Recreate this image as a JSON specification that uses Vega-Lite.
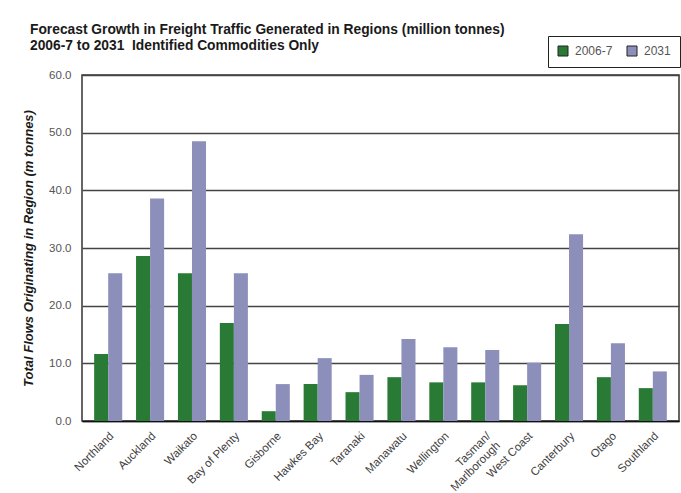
{
  "$schema": "https://vega.github.io/schema/vega-lite/v6.json",
  "width": 597,
  "height": 346,
  "autosize": "none",
  "padding": {"left": 82, "top": 75, "right": 2, "bottom": 72},
  "background": "white",
  "config": {
    "font": "Liberation Sans",
    "view": {"stroke": "#333333", "strokeWidth": 1.5}
  },
  "title": {
    "text": ["Forecast Growth in Freight Traffic Generated in Regions (million tonnes)", "2006-7 to 2031\u00a0 Identified Commodities Only"],
    "anchor": "start",
    "frame": "group",
    "fontSize": 13.8,
    "fontWeight": "bold",
    "color": "#1a1a1a",
    "lineHeight": 16,
    "dx": -52,
    "dy": 44,
    "offset": 27
  },
  "data": {
    "values": [
      {"region": "Northland", "year": "2006-7", "value": 11.6},
      {"region": "Northland", "year": "2031", "value": 25.6},
      {"region": "Auckland", "year": "2006-7", "value": 28.6},
      {"region": "Auckland", "year": "2031", "value": 38.6},
      {"region": "Waikato", "year": "2006-7", "value": 25.6},
      {"region": "Waikato", "year": "2031", "value": 48.5},
      {"region": "Bay of Plenty", "year": "2006-7", "value": 17.0},
      {"region": "Bay of Plenty", "year": "2031", "value": 25.6},
      {"region": "Gisborne", "year": "2006-7", "value": 1.7},
      {"region": "Gisborne", "year": "2031", "value": 6.4},
      {"region": "Hawkes Bay", "year": "2006-7", "value": 6.4},
      {"region": "Hawkes Bay", "year": "2031", "value": 10.9},
      {"region": "Taranaki", "year": "2006-7", "value": 5.0},
      {"region": "Taranaki", "year": "2031", "value": 8.0},
      {"region": "Manawatu", "year": "2006-7", "value": 7.6},
      {"region": "Manawatu", "year": "2031", "value": 14.2},
      {"region": "Wellington", "year": "2006-7", "value": 6.7},
      {"region": "Wellington", "year": "2031", "value": 12.8},
      {"region": "Tasman/Marlborough", "year": "2006-7", "value": 6.7},
      {"region": "Tasman/Marlborough", "year": "2031", "value": 12.3},
      {"region": "West Coast", "year": "2006-7", "value": 6.2},
      {"region": "West Coast", "year": "2031", "value": 10.1},
      {"region": "Canterbury", "year": "2006-7", "value": 16.8},
      {"region": "Canterbury", "year": "2031", "value": 32.4},
      {"region": "Otago", "year": "2006-7", "value": 7.6},
      {"region": "Otago", "year": "2031", "value": 13.5},
      {"region": "Southland", "year": "2006-7", "value": 5.7},
      {"region": "Southland", "year": "2031", "value": 8.6}
    ]
  },
  "mark": {"type": "bar"},
  "encoding": {
    "x": {
      "field": "region",
      "type": "nominal",
      "sort": null,
      "scale": {"paddingInner": 0.33, "paddingOuter": 0.29},
      "axis": {
        "title": null,
        "labelAngle": -45,
        "labelAlign": "right",
        "labelBaseline": "middle",
        "labelFontSize": 11.5,
        "labelColor": "#404040",
        "labelPadding": 13,
        "labelOffset": 4,
        "ticks": false,
        "domainColor": "#111111",
        "domainWidth": 1.5,
        "labelExpr": "datum.value == 'Tasman/Marlborough' ? ['Tasman/', 'Marlborough'] : datum.value"
      }
    },
    "xOffset": {
      "field": "year",
      "type": "nominal",
      "sort": ["2006-7", "2031"],
      "scale": {"paddingInner": 0, "paddingOuter": 0}
    },
    "y": {
      "field": "value",
      "type": "quantitative",
      "scale": {"domain": [0, 60], "nice": false},
      "axis": {
        "title": "Total Flows Originating in Region (m tonnes)",
        "titleFontSize": 13,
        "titleFontWeight": "bold",
        "titleFontStyle": "italic",
        "titleColor": "#1a1a1a",
        "titlePadding": 13,
        "values": [0, 10, 20, 30, 40, 50, 60],
        "format": ".1f",
        "labelFontSize": 11.5,
        "labelColor": "#555555",
        "labelPadding": 11,
        "ticks": false,
        "domain": false,
        "grid": true,
        "gridColor": "#444444",
        "gridWidth": 1.5
      }
    },
    "color": {
      "field": "year",
      "type": "nominal",
      "scale": {"domain": ["2006-7", "2031"], "range": ["#297a34", "#8d8fbb"]},
      "legend": {
        "title": null,
        "orient": "none",
        "legendX": 466,
        "legendY": -39,
        "direction": "horizontal",
        "strokeColor": "#222222",
        "fillColor": "white",
        "padding": 9,
        "symbolType": "square",
        "symbolSize": 100,
        "symbolStrokeColor": "#222222",
        "symbolStrokeWidth": 1,
        "labelFontSize": 12,
        "labelOffset": 6,
        "labelColor": "#555555",
        "columnPadding": 12
      }
    }
  }
}
